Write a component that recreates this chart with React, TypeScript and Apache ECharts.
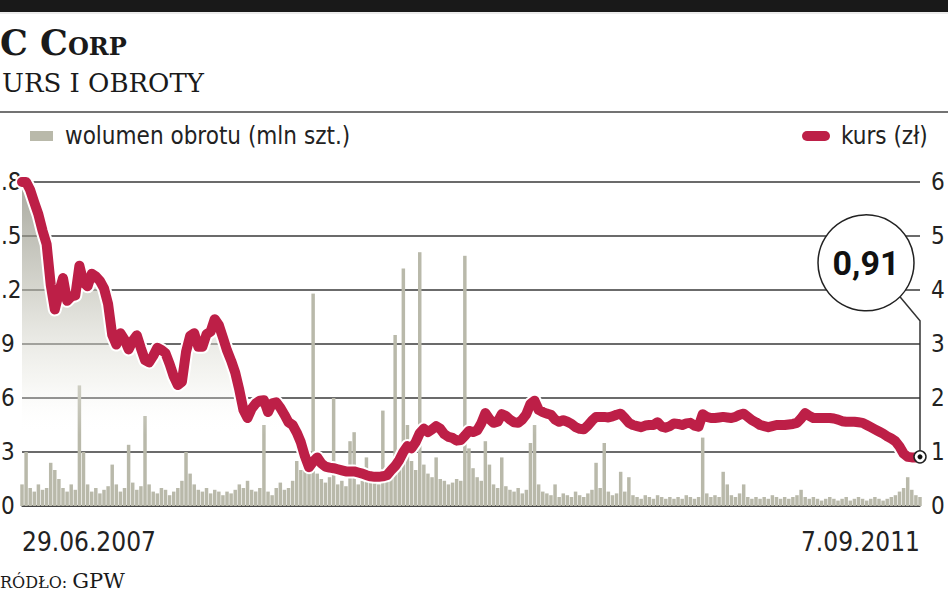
import React, { useEffect, useRef } from "react";
import * as echarts from "echarts";

// ---- data ----
const START_DATE = [2007, 5, 29]; // 29.06.2007
const END_LABEL_DATE = [2011, 8, 7]; // 7.09.2011
const WEEKS = 219;

const pad = (n: number) => (n < 10 ? "0" + n : String(n));
const fmt = (d: Date) => `${d.getDate()}.${pad(d.getMonth() + 1)}.${d.getFullYear()}`;
const categories: string[] = [];
for (let i = 0; i < WEEKS; i++) {
  const d = new Date(START_DATE[0], START_DATE[1], START_DATE[2] + 7 * i);
  categories.push(fmt(d));
}
categories.push(fmt(new Date(END_LABEL_DATE[0], END_LABEL_DATE[1], END_LABEL_DATE[2])));

// left axis tick labels as visible in the (left-cropped) reference, for 0, 0.3 ... 1.8
const leftTickLabels = ["0", "3", "6", "9", ".2", ".5", ".8"];

// kurs (zł)
const price = [
  6.0, 6.0, 5.85, 5.62, 5.4, 5.1, 4.85, 4.1, 3.64, 3.95,
  4.22, 3.8, 3.88, 3.9, 4.45, 4.14, 4.07, 4.3, 4.25, 4.17,
  4.03, 3.74, 3.17, 2.99, 3.2, 3.08, 2.9, 3.06, 3.16, 2.92,
  2.7, 2.66, 2.78, 2.93, 2.89, 2.83, 2.63, 2.4, 2.24, 2.3,
  2.85, 3.15, 3.2, 2.95, 2.95, 3.18, 3.23, 3.46, 3.35, 3.12,
  2.88, 2.69, 2.47, 2.15, 1.78, 1.63, 1.8, 1.9, 1.95, 1.96,
  1.74, 1.9, 1.92, 1.82, 1.69, 1.55, 1.5, 1.36, 1.18, 0.92,
  0.72, 0.82, 0.9, 0.79, 0.73, 0.71, 0.7, 0.68, 0.66, 0.64,
  0.64, 0.64, 0.62, 0.6, 0.57, 0.55, 0.54, 0.54, 0.55, 0.57,
  0.66, 0.74, 0.85, 1.0, 1.11, 1.07, 1.18, 1.35, 1.43, 1.37,
  1.42, 1.48, 1.43, 1.33, 1.28, 1.26, 1.21, 1.22, 1.3, 1.39,
  1.37, 1.4, 1.53, 1.72, 1.61, 1.54, 1.56, 1.7, 1.67, 1.6,
  1.55, 1.54, 1.6, 1.7, 1.89, 1.95, 1.78, 1.74, 1.71, 1.69,
  1.6, 1.56, 1.59, 1.56, 1.52, 1.46, 1.43, 1.42, 1.49, 1.58,
  1.65, 1.65, 1.65, 1.64, 1.66, 1.69, 1.71, 1.63, 1.54, 1.5,
  1.48, 1.46, 1.49, 1.5, 1.5, 1.55, 1.47, 1.45, 1.48, 1.53,
  1.52, 1.5, 1.53, 1.54, 1.49, 1.47, 1.7, 1.65, 1.63, 1.63,
  1.64, 1.65, 1.64, 1.63, 1.65, 1.69, 1.71, 1.65, 1.59, 1.55,
  1.5, 1.48, 1.46, 1.48, 1.5, 1.5, 1.5, 1.51, 1.52, 1.54,
  1.62, 1.72, 1.67, 1.63, 1.63, 1.63, 1.63, 1.63, 1.62, 1.6,
  1.57, 1.56, 1.56, 1.56, 1.55, 1.54, 1.5, 1.46, 1.42, 1.38,
  1.34, 1.29, 1.25, 1.2, 1.1, 0.97, 0.91, 0.9, 0.9, 0.91,
];

// wolumen obrotu (mln szt.)
const volume = [
  0.12, 0.3, 0.1, 0.08, 0.12, 0.09, 0.1, 0.24, 0.2, 0.15,
  0.1, 0.08, 0.12, 0.09, 0.67, 0.3, 0.12, 0.08, 0.1, 0.07,
  0.09, 0.11, 0.23, 0.12, 0.08, 0.1, 0.34, 0.13, 0.09, 0.11,
  0.5, 0.12, 0.08, 0.07, 0.1, 0.09, 0.06, 0.08, 0.1, 0.14,
  0.3, 0.18, 0.12, 0.09, 0.08, 0.1, 0.07, 0.09, 0.08, 0.06,
  0.08, 0.07, 0.09, 0.12, 0.1, 0.14, 0.09, 0.08, 0.1, 0.45,
  0.08, 0.06, 0.1, 0.13, 0.09, 0.1, 0.14, 0.25, 0.2, 0.22,
  0.25, 1.18, 0.18, 0.15, 0.13, 0.16, 0.6, 0.12, 0.14, 0.11,
  0.36, 0.41, 0.12, 0.14, 0.27, 0.13, 0.15, 0.12, 0.53, 0.16,
  0.2, 0.95, 0.22, 1.32, 0.45, 0.25, 0.2, 1.41, 0.23, 0.18,
  0.16, 0.27, 0.15, 0.14, 0.12, 0.13, 0.15, 0.14, 1.39, 0.32,
  0.21, 0.16, 0.14, 0.36, 0.23, 0.12, 0.1, 0.27, 0.11, 0.09,
  0.08, 0.1, 0.07, 0.09, 0.35, 0.45, 0.12, 0.08, 0.07, 0.06,
  0.12, 0.05, 0.07, 0.06, 0.05, 0.08, 0.06, 0.05, 0.07, 0.09,
  0.24, 0.1, 0.35, 0.08, 0.06, 0.07, 0.19, 0.08, 0.16, 0.06,
  0.05, 0.04, 0.06, 0.05, 0.04, 0.06, 0.05, 0.04, 0.05, 0.04,
  0.05, 0.04, 0.06, 0.05, 0.04, 0.05, 0.38, 0.07, 0.05, 0.06,
  0.05, 0.19, 0.12, 0.06, 0.05, 0.07, 0.12, 0.05, 0.04, 0.05,
  0.04, 0.05, 0.04, 0.06, 0.05, 0.04, 0.05, 0.04, 0.05, 0.06,
  0.09, 0.05, 0.04, 0.05, 0.04, 0.03, 0.04, 0.05, 0.04, 0.03,
  0.04, 0.05, 0.03, 0.04, 0.05, 0.04, 0.03, 0.04, 0.05, 0.04,
  0.03, 0.04, 0.05, 0.06, 0.08, 0.1, 0.16, 0.09, 0.06, 0.05,
];

const SUBTITLE = "URS I OBROTY";
const SOURCE_LABEL = "RÓDŁO:";
const SOURCE = "GPW";
const LEGEND_VOLUME = "wolumen obrotu (mln szt.)";
const LEGEND_PRICE = "kurs (zł)";
const LAST_VALUE_LABEL = "0,91";

const RED = "#bd1f47";
const VOL = "#b9b9aa";
const NARROW = '"Liberation Sans Narrow", "DejaVu Sans Condensed", Roboto, sans-serif';
const SERIF = '"DejaVu Serif", "Liberation Serif", serif';

export default function App() {
  const ref = useRef<HTMLDivElement>(null);

  useEffect(() => {
    if (!ref.current) return;
    const chart = echarts.init(ref.current, null, { renderer: "svg" });
    const option: any = {
      animation: false,
      backgroundColor: "#ffffff",
      grid: { left: 22, right: 28, top: 182, bottom: 87, containLabel: false, outerBoundsMode: "none" },
      xAxis: {
        type: "category",
        data: categories,
        boundaryGap: false,
        axisLine: { show: true, lineStyle: { color: "#3a3a3a", width: 1.5 } },
        axisTick: { show: false },
        axisLabel: {
          interval: (i: number) => i === 0 || i === categories.length - 1,
          showMinLabel: true,
          showMaxLabel: true,
          alignMinLabel: "left",
          alignMaxLabel: "right",
          margin: 23,
          fontFamily: NARROW,
          fontSize: 26,
          color: "#222",
        },
        splitLine: { show: false },
      },
      yAxis: [
        {
          type: "value",
          min: 0,
          max: 1.8,
          interval: 0.3,
          position: "left",
          axisLine: { show: false },
          axisTick: { show: false },
          splitLine: { show: false },
          axisLabel: {
            margin: 21,
            align: "left",
            fontFamily: NARROW,
            fontSize: 24,
            color: "#222",
            formatter: (v: number) => leftTickLabels[Math.round(v / 0.3)],
          },
        },
        {
          type: "value",
          min: 0,
          max: 6,
          interval: 1,
          position: "right",
          axisLine: { show: false },
          axisTick: { show: false },
          splitLine: { show: true, lineStyle: { color: "#3a3a3a", width: 1.5 } },
          axisLabel: {
            margin: 11,
            fontFamily: NARROW,
            fontSize: 24,
            color: "#222",
          },
        },
      ],
      series: [
        {
          name: "shade",
          type: "line",
          yAxisIndex: 1,
          data: price,
          symbol: "none",
          lineStyle: { width: 0, opacity: 0 },
          areaStyle: {
            color: new echarts.graphic.LinearGradient(0, 0, 0, 1, [
              { offset: 0, color: "rgba(125,125,110,0.95)" },
              { offset: 0.35, color: "rgba(190,190,178,0.85)" },
              { offset: 0.62, color: "rgba(235,235,228,0.6)" },
              { offset: 0.78, color: "rgba(255,255,255,0)" },
              { offset: 1, color: "rgba(255,255,255,0)" },
            ]),
          },
          silent: true,
        },
        {
          name: LEGEND_VOLUME,
          type: "bar",
          yAxisIndex: 0,
          data: volume,
          barCategoryGap: "15%",
          itemStyle: { color: VOL },
          silent: true,
        },
        {
          name: "outline",
          type: "line",
          yAxisIndex: 1,
          data: price,
          symbol: "none",
          lineStyle: { color: "#ffffff", width: 14, join: "round", cap: "round" },
          silent: true,
        },
        {
          name: LEGEND_PRICE,
          type: "line",
          yAxisIndex: 1,
          data: price,
          symbol: "none",
          lineStyle: { color: RED, width: 10, join: "round", cap: "round" },
          silent: true,
        },
      ],
    };
    chart.setOption(option);

    const last = price.length - 1;
    const p = chart.convertToPixel({ xAxisIndex: 0, yAxisIndex: 1 }, [last, price[last]]) as number[];
    const px = p[0];
    const py = p[1];
    const cx = px - 54;
    const cy = py - 194;
    const r = 48;
    const ex = cx + r * Math.SQRT1_2;
    const ey = cy + r * Math.SQRT1_2;

    chart.setOption({
      graphic: [
        { type: "rect", z: 100, shape: { x: 0, y: 0, width: 948, height: 12 }, style: { fill: "#191919" } },
        { type: "line", z: 100, shape: { x1: 0, y1: 13, x2: 948, y2: 13 }, style: { stroke: "#d8d8d8", lineWidth: 1 } },
        {
          type: "text",
          z: 100,
          x: 0,
          y: 60,
          style: {
            text: "{a|C C}{b|ORP}",
            textVerticalAlign: "bottom",
            rich: {
              a: { fontFamily: SERIF, fontWeight: "bold", fontSize: 35, fill: "#1a1a1a", verticalAlign: "bottom" },
              b: { fontFamily: SERIF, fontWeight: "bold", fontSize: 24, fill: "#1a1a1a", verticalAlign: "bottom", padding: [0, 0, 2, 0] },
            },
          },
        },
        {
          type: "text",
          z: 100,
          x: 2,
          y: 96,
          style: { text: SUBTITLE, fontFamily: SERIF, fontSize: 26, fill: "#1a1a1a", textVerticalAlign: "bottom" },
        },
        { type: "line", z: 100, shape: { x1: 0, y1: 112, x2: 948, y2: 112 }, style: { stroke: "#444", lineWidth: 1.5 } },
        { type: "rect", z: 100, shape: { x: 30, y: 131, width: 23, height: 10 }, style: { fill: VOL } },
        {
          type: "text",
          z: 100,
          x: 65,
          y: 136,
          style: { text: LEGEND_VOLUME, fontFamily: NARROW, fontSize: 24, fill: "#222", textVerticalAlign: "middle" },
        },
        { type: "rect", z: 100, shape: { x: 802, y: 131, width: 28, height: 10, r: 5 }, style: { fill: RED } },
        {
          type: "text",
          z: 100,
          x: 841,
          y: 136,
          style: { text: LEGEND_PRICE, fontFamily: NARROW, fontSize: 24, fill: "#222", textVerticalAlign: "middle" },
        },
        {
          type: "text",
          z: 100,
          x: 0,
          y: 591,
          style: {
            text: "{a|" + SOURCE_LABEL + " }{b|" + SOURCE + "}",
            textVerticalAlign: "bottom",
            rich: {
              a: { fontFamily: SERIF, fontSize: 16, fill: "#1a1a1a", verticalAlign: "bottom", padding: [0, 0, 1, 0] },
              b: { fontFamily: SERIF, fontSize: 21, fill: "#1a1a1a", verticalAlign: "bottom" },
            },
          },
        },
        {
          type: "polyline",
          z: 100,
          shape: { points: [[ex, ey], [px, ey + 24], [px, py - 6]] },
          style: { stroke: "#333", lineWidth: 1.5, fill: "none" },
        },
        { type: "circle", z: 101, shape: { cx, cy, r }, style: { fill: "#fff", stroke: "#222", lineWidth: 1.5 } },
        {
          type: "text",
          z: 102,
          x: cx,
          y: cy,
          style: {
            text: LAST_VALUE_LABEL,
            fontFamily: "Roboto, sans-serif",
            fontWeight: "bold",
            fontSize: 34,
            fill: "#111",
            textAlign: "center",
            textVerticalAlign: "middle",
          },
        },
        { type: "circle", z: 101, shape: { cx: px, cy: py, r: 6 }, style: { fill: "#fff", stroke: "#222", lineWidth: 1.5 } },
        { type: "circle", z: 102, shape: { cx: px, cy: py, r: 2.5 }, style: { fill: "#111" } },
      ],
    });

    return () => chart.dispose();
  }, []);

  return (
    <div
      ref={ref}
      style={{ position: "absolute", left: 0, top: 0, width: 948, height: 593, background: "#fff" }}
    />
  );
}
